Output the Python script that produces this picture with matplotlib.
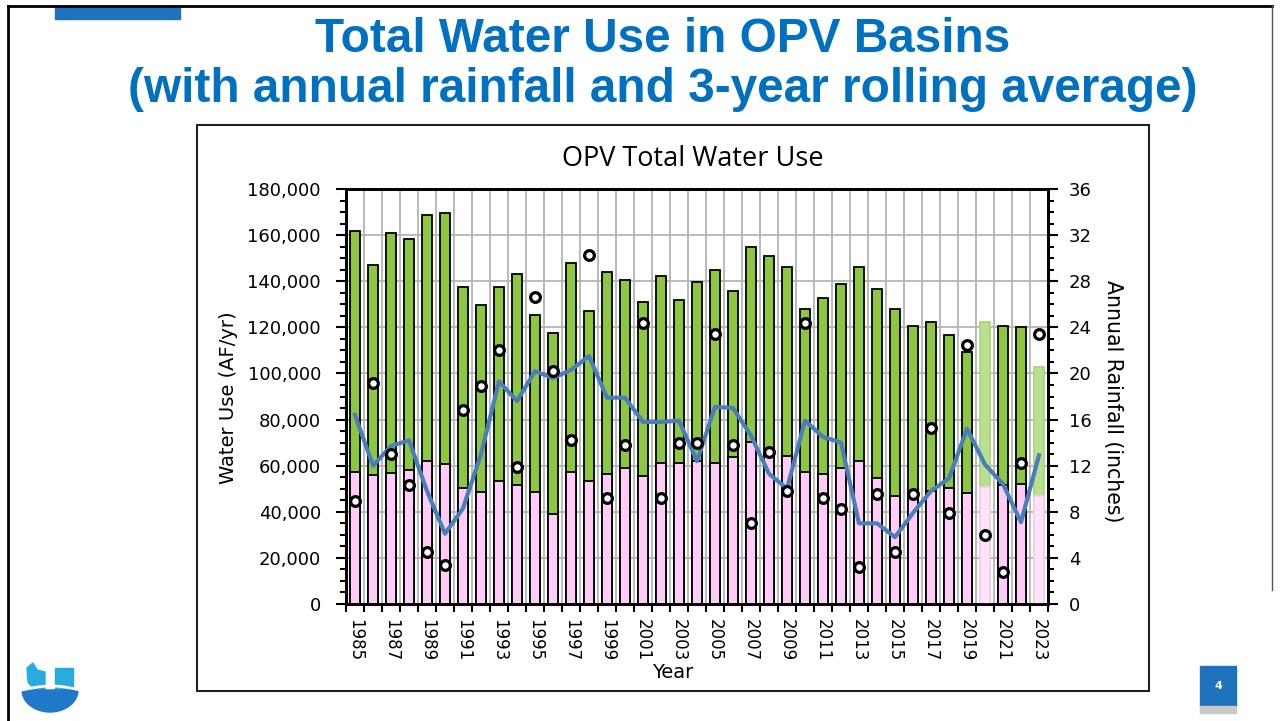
import matplotlib.pyplot as plt
import numpy as np
from matplotlib.patches import Rectangle, Polygon
from matplotlib.ticker import MultipleLocator, FixedLocator, FuncFormatter

# data (water use in AF/yr, rainfall in inches)
years = list(range(1985, 2024))
total_use = [162000, 147000, 160700, 158300, 168800, 169500, 137500, 129500, 137500, 143000,
             125400, 117500, 147900, 127000, 143900, 140700, 131000, 142300, 131900, 139800,
             144700, 135800, 154900, 150900, 146200, 127900, 132600, 139000, 146200, 136700,
             127900, 120700, 122100, 116600, 109400, 122100, 120700, 120000, 103000]
groundwater = [57300, 55900, 56700, 58300, 62200, 60800, 50300, 48700, 53300, 51800,
               48700, 39200, 57300, 53300, 56400, 58900, 55700, 61100, 61100, 62000,
               61300, 63800, 70300, 66000, 64100, 57300, 56600, 58900, 62200, 54700,
               46800, 47000, 49000, 50300, 48000, 50800, 51800, 52000, 46800]
rainfall = [8.9, 19.2, 13.0, 10.3, 4.55, 3.4, 16.8, 18.95, 22.0, 11.9, 26.6, 20.2, 14.2, 30.3,
            9.2, 13.8, 24.4, 9.2, 14.0, 14.0, 23.4, 13.8, 7.0, 13.2, 9.8, 24.4, 9.2,
            8.2, 3.25, 9.5, 4.55, 9.5, 15.3, 7.9, 22.5, 6.0, 2.8, 12.2, 23.4]
rolling_avg = [16.4, 12.0, 13.7, 14.2, 9.8, 6.1, 8.3, 13.0, 19.3, 17.6, 20.2, 19.6, 20.3, 21.5,
               17.9, 17.9, 15.8, 15.8, 15.9, 12.4, 17.1, 17.0, 14.6, 11.3, 10.0, 15.9, 14.5,
               14.0, 7.0, 7.0, 5.8, 7.9, 9.8, 10.9, 15.2, 12.1, 10.4, 7.1, 12.9]
provisional = [2020, 2023]

W, H = 1286, 721
fig = plt.figure(figsize=(W / 100, H / 100), dpi=100)

# slide decorations in pixel coordinates
bg = fig.add_axes([0, 0, 1, 1], zorder=0)
bg.set_xlim(0, W); bg.set_ylim(H, 0); bg.axis('off')
bg.plot([8, 8], [6, 721], color='black', lw=2)
bg.plot([8, 1272], [6, 6], color='black', lw=2)
bg.plot([1272, 1272], [6, 590], color='#555555', lw=1)
bg.add_patch(Rectangle((55, 6), 125, 13, color='#1f73be'))
bg.add_patch(Rectangle((197, 125), 952, 566, fill=False, edgecolor='#222222', lw=1.5))

# page number box
bg.add_patch(Rectangle((1200, 666), 36, 40, color='#1f73be'))
bg.add_patch(Rectangle((1200, 706), 36, 7, color='#c8c8c8'))
bg.text(1218, 686, '4', color='white', fontsize=8, weight='bold', ha='center', va='center')

# logo (rough)
bg.add_patch(Rectangle((55, 668), 18, 22, color='#29abe2'))
bg.add_patch(Polygon([(27, 668), (33, 663), (37, 670), (45, 672), (45, 692), (36, 692), (28, 682)],
                     color='#29abe2'))
t = np.linspace(0, np.pi, 40)
bowl = np.column_stack([50 + 28 * np.cos(t), 690 + 22 * np.sin(t)])
bg.add_patch(Polygon(bowl, color='#1f78c8'))
wx = np.linspace(22, 80, 40)
bg.plot(wx, 690 - 4 * np.sin((wx - 22) / 58 * np.pi), color='white', lw=2)

# slide title
fig.text(663 / W, 1 - 40 / H, 'Total Water Use in OPV Basins', ha='center', va='center',
         fontsize=34.4, weight='bold', color='#0070c0', family='Liberation Sans')
fig.text(663 / W, 1 - 90 / H, '(with annual rainfall and 3-year rolling average)', ha='center',
         va='center', fontsize=34.4, weight='bold', color='#0070c0', family='Liberation Sans')

# chart
ax = fig.add_axes([346 / W, 1 - 604 / H, (1048 - 346) / W, (604 - 189) / H], zorder=2)
x = np.array(years)
green_c = ['#b9df90' if y in provisional else '#8dc63f' for y in years]
green_e = ['#a9d67a' if y in provisional else 'black' for y in years]
pink_c = ['#ffe3fa' if y in provisional else '#ffccf7' for y in years]
pink_e = ['#f5cdee' if y in provisional else 'black' for y in years]
ax.bar(x, total_use, width=0.56, color=green_c, edgecolor=green_e, linewidth=1.3, zorder=2)
ax.bar(x, groundwater, width=0.56, color=pink_c, edgecolor=pink_e, linewidth=1.3, zorder=3)

ax.set_xlim(1984.5, 2023.5)
ax.set_ylim(0, 180000)
ax.set_axisbelow(True)
ax.xaxis.set_major_locator(FixedLocator(np.arange(1984.5, 2024, 1)))
ax.xaxis.set_minor_locator(FixedLocator(years[::2]))
ax.xaxis.set_major_formatter(FuncFormatter(lambda v, p: ''))
ax.xaxis.set_minor_formatter(FuncFormatter(lambda v, p: f'{int(round(v))}'))
ax.tick_params(axis='x', which='major', length=6, width=1.5, direction='out')
ax.tick_params(axis='x', which='minor', length=0, labelsize=12, labelrotation=-90, pad=11)
ax.yaxis.set_major_locator(MultipleLocator(20000))
ax.yaxis.set_minor_locator(MultipleLocator(5000))
ax.yaxis.set_major_formatter(FuncFormatter(lambda v, p: f'{v:,.0f}'))
ax.tick_params(axis='y', which='major', length=7, width=1.5, labelsize=13, pad=11)
ax.tick_params(axis='y', which='minor', length=4, width=1.5)
ax.grid(which='major', color='#b4b4b4', linewidth=1.3)
for s in ax.spines.values():
    s.set_linewidth(2)

ax2 = ax.twinx()
ax2.set_ylim(0, 36)
ax2.yaxis.set_major_locator(MultipleLocator(4))
ax2.yaxis.set_minor_locator(MultipleLocator(1))
ax2.tick_params(axis='y', which='major', length=7, width=1.5, labelsize=13, pad=8)
ax2.tick_params(axis='y', which='minor', length=4, width=1.5)
for s in ax2.spines.values():
    s.set_linewidth(2)
ax2.plot(x, rolling_avg, color='#4a7ebb', lw=3, zorder=3)
ax2.plot(x, rainfall, 'o', mfc='white', mec='black', ms=7, mew=2.3, zorder=4)

# chart texts
fig.text(693 / W, 1 - 159 / H, 'OPV Total Water Use', ha='center', va='center',
         fontsize=19.5, family='Open Sans')
fig.text(228 / W, 1 - 398 / H, 'Water Use (AF/yr)', ha='center', va='center',
         rotation=90, fontsize=14)
fig.text(1113 / W, 1 - 401 / H, 'Annual Rainfall (inches)', ha='center', va='center',
         rotation=-90, fontsize=14.8)
fig.text(673 / W, 1 - 672 / H, 'Year', ha='center', va='center', fontsize=14)

plt.savefig('out.png', dpi=100)
